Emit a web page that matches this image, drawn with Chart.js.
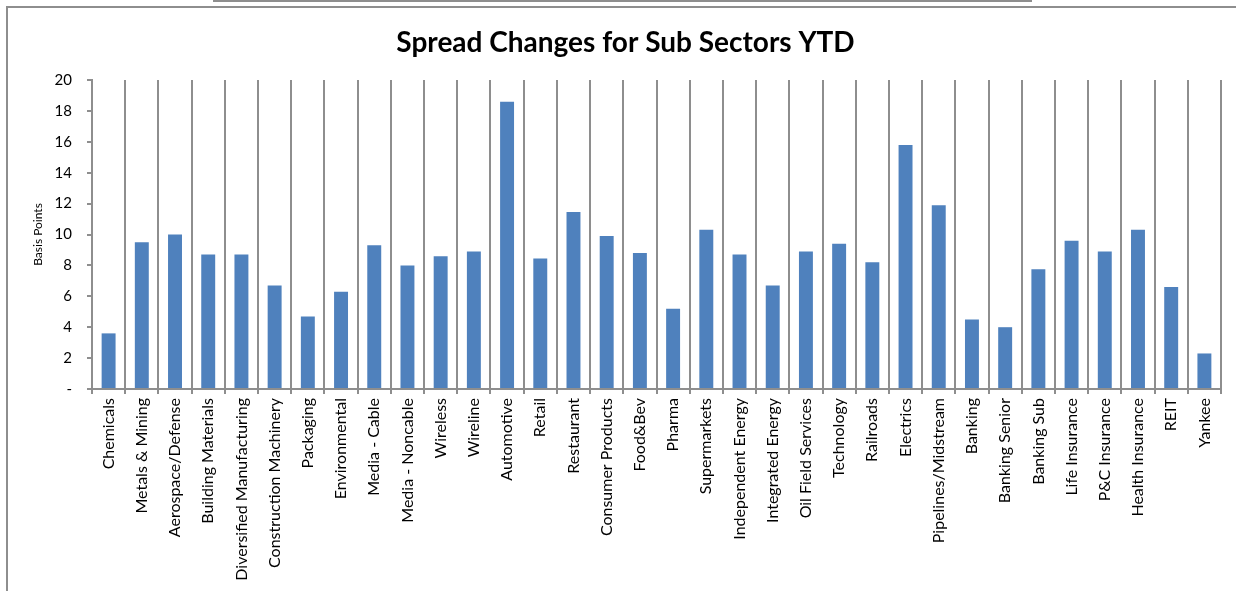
<!DOCTYPE html>
<html>
<head>
<meta charset="utf-8">
<title>Spread Changes for Sub Sectors YTD</title>
<script src="https://cdn.jsdelivr.net/npm/chart.js@4.4.1/dist/chart.umd.min.js"></script>
<style>
    html, body { margin: 0; padding: 0; background: #fff; overflow: hidden; }
    .wrap { position: relative; width: 1236px; height: 591px; }
    .frame { position: absolute; left: 6px; top: 6px; right: 0; bottom: 0;
             border-left: 2px solid #8e8e8e; border-top: 2px solid #8e8e8e; }
    .topline { position: absolute; left: 213px; top: 0; width: 819px; height: 2px; background: #8e8e8e; }
    .chart-box { position: absolute; left: 0; top: 0; width: 1236px; height: 591px; }
</style>
</head>
<body>
<div class="wrap">
    <div class="topline"></div>
    <div class="frame"></div>
    <div class="chart-box"><canvas id="spreadChart"></canvas></div>
</div>
<script>
// Sub sectors (x axis)
const sectors = [
    'Chemicals', 'Metals & Mining', 'Aerospace/Defense', 'Building Materials',
    'Diversified Manufacturing', 'Construction Machinery', 'Packaging', 'Environmental',
    'Media - Cable', 'Media - Noncable', 'Wireless', 'Wireline', 'Automotive', 'Retail',
    'Restaurant', 'Consumer Products', 'Food&Bev', 'Pharma', 'Supermarkets',
    'Independent Energy', 'Integrated Energy', 'Oil Field Services', 'Technology',
    'Railroads', 'Electrics', 'Pipelines/Midstream', 'Banking', 'Banking Senior',
    'Banking Sub', 'Life Insurance', 'P&C Insurance', 'Health Insurance', 'REIT', 'Yankee'
];

// Spread change YTD in basis points
const spreadChanges = [
    3.6, 9.5, 10.0, 8.7,
    8.7, 6.7, 4.7, 6.3,
    9.3, 8.0, 8.6, 8.9, 18.6, 8.45,
    11.45, 9.9, 8.8, 5.2, 10.3,
    8.7, 6.7, 8.9, 9.4,
    8.2, 15.8, 11.9, 4.5, 4.0,
    7.75, 9.6, 8.9, 10.3, 6.6, 2.3
];

// Y axis range
const yMin = 0;
const yMax = 20;
const yStep = 2;

const fontFamily = 'Lato, "Open Sans", sans-serif';

document.addEventListener('DOMContentLoaded', function() {
    const ctx = document.getElementById('spreadChart').getContext('2d');
    new Chart(ctx, {
        type: 'bar',
        data: {
            labels: sectors,
            datasets: [{
                label: 'Spread Change',
                data: spreadChanges,
                backgroundColor: '#4F81BD',
                borderWidth: 0,
                barPercentage: 0.42,
                categoryPercentage: 1
            }]
        },
        options: {
            responsive: true,
            maintainAspectRatio: false,
            animation: false,
            layout: {
                padding: { top: 7, left: 30, right: 15, bottom: 0 }
            },
            plugins: {
                legend: { display: false },
                tooltip: { enabled: false },
                title: {
                    display: true,
                    text: 'Spread Changes for Sub Sectors YTD',
                    color: '#000',
                    font: { family: fontFamily, size: 28, weight: 'bold', lineHeight: 1.2 },
                    padding: { top: 19, bottom: 20.4 }
                }
            },
            scales: {
                x: {
                    grid: {
                        offset: true,
                        color: '#8e8e8e',
                        lineWidth: 2,
                        tickLength: 5
                    },
                    border: { color: '#8e8e8e', width: 2 },
                    ticks: {
                        autoSkip: false,
                        maxRotation: 90,
                        minRotation: 90,
                        padding: 4,
                        color: '#000',
                        font: { family: fontFamily, size: 16 }
                    },
                    afterFit: function(scale) {
                        scale.height = 202;
                    }
                },
                y: {
                    min: yMin,
                    max: yMax,
                    grid: {
                        drawOnChartArea: false,
                        color: '#8e8e8e',
                        lineWidth: 2,
                        tickLength: 5
                    },
                    border: { color: '#8e8e8e', width: 2 },
                    ticks: {
                        stepSize: yStep,
                        padding: 15,
                        color: '#000',
                        font: { family: fontFamily, size: 15 },
                        callback: function(value) {
                            return value === 0 ? '-' : value;
                        }
                    },
                    title: {
                        display: true,
                        text: 'Basis Points',
                        color: '#000',
                        font: { family: fontFamily, size: 12 },
                        padding: { top: 1, bottom: 0 }
                    },
                    afterFit: function(scale) {
                        scale.width = 62;
                    }
                }
            }
        }
    });
});
</script>
</body>
</html>
